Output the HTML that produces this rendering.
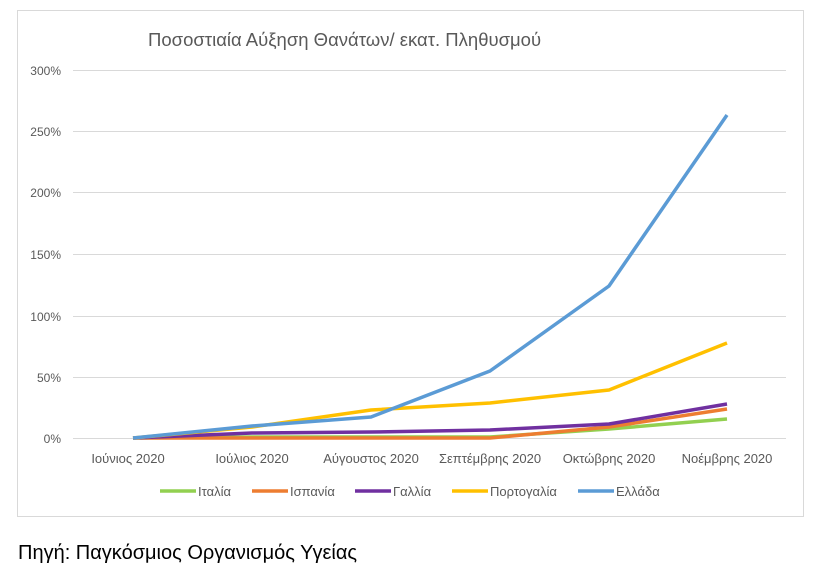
<!DOCTYPE html>
<html><head><meta charset="utf-8"><style>
body{margin:0;background:#fff;width:815px;height:569px;overflow:hidden;font-family:"Liberation Sans","DejaVu Sans",sans-serif}
</style></head><body>
<svg width="815" height="569" xmlns="http://www.w3.org/2000/svg" font-family="Liberation Sans, DejaVu Sans, sans-serif">
<rect x="17.5" y="10.5" width="786" height="506" fill="#fff" stroke="#d9d9d9"/>
<text x="148" y="46" font-size="18.5" fill="#595959">Ποσοστιαία Αύξηση Θανάτων/ εκατ. Πληθυσμού</text>
<g stroke="#d9d9d9" stroke-width="1">
<line x1="73" x2="786" y1="70.5" y2="70.5"/><line x1="73" x2="786" y1="131.5" y2="131.5"/>
<line x1="73" x2="786" y1="192.5" y2="192.5"/><line x1="73" x2="786" y1="254.5" y2="254.5"/>
<line x1="73" x2="786" y1="316.5" y2="316.5"/><line x1="73" x2="786" y1="377.5" y2="377.5"/>
<line x1="73" x2="786" y1="438.5" y2="438.5"/>
</g>
<g font-size="12" fill="#595959" text-anchor="end">
<text x="61" y="75">300%</text><text x="61" y="136">250%</text><text x="61" y="197">200%</text>
<text x="61" y="259">150%</text><text x="61" y="321">100%</text><text x="61" y="382">50%</text><text x="61" y="443">0%</text>
</g>
<g font-size="13" fill="#595959" text-anchor="middle">
<text x="128" y="463">Ιούνιος 2020</text><text x="252" y="463">Ιούλιος 2020</text><text x="371" y="463">Αύγουστος 2020</text>
<text x="490" y="463">Σεπτέμβρης 2020</text><text x="609" y="463">Οκτώβρης 2020</text><text x="727" y="463">Νοέμβρης 2020</text>
</g>
<g fill="none" stroke-width="3.5" stroke-linejoin="round">
<polyline stroke="#92d050" points="133,438 252,437 371,437 490,437 609,429 727,419"/>
<polyline stroke="#ed7d31" points="133,438 252,438 371,438 490,438 609,427 727,409"/>
<polyline stroke="#7030a0" points="133,438 252,433 371,432 490,430 609,424 727,404"/>
<polyline stroke="#ffc000" points="133,438 252,427 371,410 490,403 609,390 727,343"/>
<polyline stroke="#5b9bd5" points="133,438 252,426 371,417 490,371 609,286 727,115"/>
</g>
<g font-size="13" fill="#595959">
<line x1="160" x2="196" y1="491" y2="491" stroke="#92d050" stroke-width="3.5"/><text x="198" y="496">Ιταλία</text>
<line x1="252" x2="288" y1="491" y2="491" stroke="#ed7d31" stroke-width="3.5"/><text x="290" y="496">Ισπανία</text>
<line x1="355" x2="391" y1="491" y2="491" stroke="#7030a0" stroke-width="3.5"/><text x="393" y="496">Γαλλία</text>
<line x1="452" x2="488" y1="491" y2="491" stroke="#ffc000" stroke-width="3.5"/><text x="490" y="496">Πορτογαλία</text>
<line x1="578" x2="614" y1="491" y2="491" stroke="#5b9bd5" stroke-width="3.5"/><text x="616" y="496">Ελλάδα</text>
</g>
<text x="18" y="559" font-size="20" fill="#000">Πηγή: Παγκόσμιος Οργανισμός Υγείας</text>
</svg>
</body></html>
